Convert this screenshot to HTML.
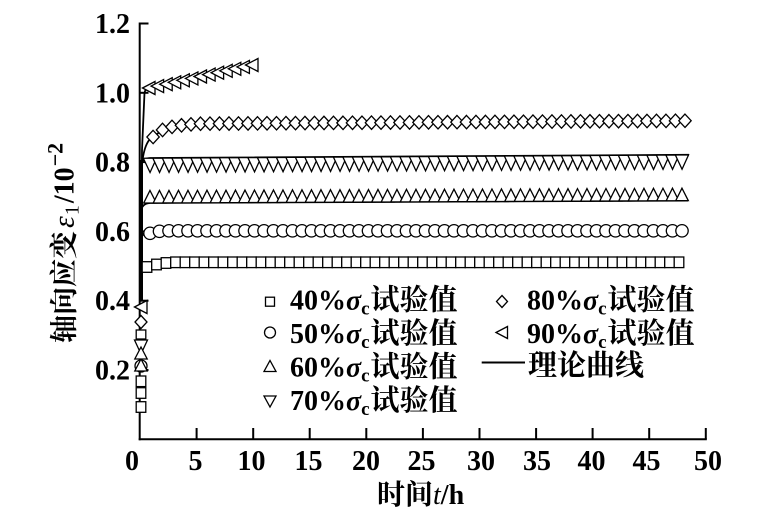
<!DOCTYPE html>
<html><head><meta charset="utf-8">
<style>html,body{margin:0;padding:0;background:#fff}svg{display:block}</style>
</head><body>
<svg width="770" height="530" viewBox="0 0 770 530" xmlns="http://www.w3.org/2000/svg">
<defs>
<marker id="mSq" markerUnits="userSpaceOnUse" markerWidth="1" markerHeight="1" refX="0" refY="0" style="overflow:visible"><rect x="-4.8" y="-5.3" width="9.6" height="10.6" fill="#fff" stroke="#000" stroke-width="1.3"/></marker>
<marker id="mCi" markerUnits="userSpaceOnUse" markerWidth="1" markerHeight="1" refX="0" refY="0" style="overflow:visible"><circle r="6.2" fill="#fff" stroke="#000" stroke-width="1.3"/></marker>
<marker id="mUp" markerUnits="userSpaceOnUse" markerWidth="1" markerHeight="1" refX="0" refY="0" style="overflow:visible"><polygon points="-6.3,5 6.3,5 0,-7.5" fill="#fff" stroke="#000" stroke-width="1.3"/></marker>
<marker id="mDn" markerUnits="userSpaceOnUse" markerWidth="1" markerHeight="1" refX="0" refY="0" style="overflow:visible"><polygon points="-6.6,-6 6.6,-6 0,8.3" fill="#fff" stroke="#000" stroke-width="1.3"/></marker>
<marker id="mDi" markerUnits="userSpaceOnUse" markerWidth="1" markerHeight="1" refX="0" refY="0" style="overflow:visible"><polygon points="0,-6.7 6.2,0 0,6.7 -6.2,0" fill="#fff" stroke="#000" stroke-width="1.3"/></marker>
<marker id="mLt" markerUnits="userSpaceOnUse" markerWidth="1" markerHeight="1" refX="0" refY="0" style="overflow:visible"><polygon points="-6.5,0 6,-6.5 6,6.5" fill="#fff" stroke="#000" stroke-width="1.3"/></marker>
</defs>

<!-- axes -->
<g stroke="#000" stroke-width="2" fill="none">
<line x1="139.7" y1="22.5" x2="139.7" y2="440.3"/>
<line x1="138.7" y1="439.3" x2="706.8" y2="439.3"/>
<line x1="139.7" y1="23.5" x2="148.5" y2="23.5"/>
<line x1="139.7" y1="92.8" x2="148.5" y2="92.8"/>
<line x1="139.7" y1="162.1" x2="148.5" y2="162.1"/>
<line x1="139.7" y1="231.4" x2="148.5" y2="231.4"/>
<line x1="139.7" y1="300.7" x2="148.5" y2="300.7"/>
<line x1="139.7" y1="370" x2="148.5" y2="370"/>
<line x1="196.6" y1="439.3" x2="196.6" y2="428"/>
<line x1="253.2" y1="439.3" x2="253.2" y2="428"/>
<line x1="309.7" y1="439.3" x2="309.7" y2="428"/>
<line x1="366.3" y1="439.3" x2="366.3" y2="428"/>
<line x1="422.9" y1="439.3" x2="422.9" y2="428"/>
<line x1="479.5" y1="439.3" x2="479.5" y2="428"/>
<line x1="536.1" y1="439.3" x2="536.1" y2="428"/>
<line x1="592.6" y1="439.3" x2="592.6" y2="428"/>
<line x1="649.2" y1="439.3" x2="649.2" y2="428"/>
<line x1="705.8" y1="439.3" x2="705.8" y2="428"/>
</g>

<!-- tick labels -->
<g font-family="'Liberation Serif', serif" font-weight="bold" font-size="28" fill="#000">
<g text-anchor="end">
<text x="130" y="33">1.2</text>
<text x="130" y="102.3">1.0</text>
<text x="130" y="171.6">0.8</text>
<text x="130" y="240.9">0.6</text>
<text x="130" y="310.2">0.4</text>
<text x="130" y="379.5">0.2</text>
</g>
<g text-anchor="middle">
<text x="132" y="470">0</text>
<text x="195.5" y="470">5</text>
<text x="251.5" y="470">10</text>
<text x="308.5" y="470">15</text>
<text x="366" y="470">20</text>
<text x="421.5" y="470">25</text>
<text x="481" y="470">30</text>
<text x="537" y="470">35</text>
<text x="591.5" y="470">40</text>
<text x="646.5" y="470">45</text>
<text x="708" y="470">50</text>
</g>
</g>

<!-- axis titles -->
<text x="377" y="504" font-size="28" font-weight="bold" font-family="'Liberation Serif', 'Noto Serif CJK SC', serif" fill="#000"><tspan font-family="'Noto Serif CJK SC', 'Noto Sans CJK SC', serif">时间</tspan><tspan font-style="italic" font-weight="normal">t</tspan>/h</text>

<text transform="translate(73.5,343) rotate(-90)" x="0" y="0" font-size="28" font-weight="bold" font-family="'Liberation Serif', 'Noto Serif CJK SC', serif" fill="#000"><tspan font-family="'Noto Serif CJK SC', 'Noto Sans CJK SC', serif">轴向应变</tspan><tspan font-style="italic" font-weight="normal" font-size="30" dx="3">ε</tspan><tspan font-size="20" font-weight="normal" dy="5" dx="1">1</tspan><tspan dy="-5" dx="2">/10</tspan><tspan font-size="22" dy="-11" dx="1">−2</tspan></text>

<!-- theory curves -->
<g stroke="#000" stroke-width="1.8" fill="none">
<rect x="139" y="160" width="4" height="141" fill="#000" stroke="none"/>
<path d="M141,301 L141,270 Q142,262.5 152,262.3 L680,262.3"/>
<path d="M141,301 L141,240 Q142,231 152,230.8 L683,230.8"/>
<path d="M141,301 L141,212 Q141.5,203.5 150,203 L688,200.6"/>
<path d="M141,301 L141,166 Q141.5,158.3 150,158 L689,154.8"/>
<path d="M141,301 L141,180 Q142,142 153,137"/>
<path d="M141,301 L142,150 L144.5,93 Q145.5,88 149,88"/>
</g>

<!-- 40% squares -->
<polyline transform="translate(147,262.3)" fill="none" stroke="none" marker-start="url(#mSq)" marker-mid="url(#mSq)" marker-end="url(#mSq)" points="0,4.7 9.5,2.2 19,0.7 28.5,0 38,0 47.5,0 57,0 66.5,0 76,0 85.5,0 95,0 104.5,0 114,0 123.5,0 133,0 142.5,0 152,0 161.5,0 171,0 180.5,0 190,0 199.5,0 209,0 218.5,0 228,0 237.5,0 247,0 256.5,0 266,0 275.5,0 285,0 294.5,0 304,0 313.5,0 323,0 332.5,0 342,0 351.5,0 361,0 370.5,0 380,0 389.5,0 399,0 408.5,0 418,0 427.5,0 437,0 446.5,0 456,0 465.5,0 475,0 484.5,0 494,0 503.5,0 513,0 522.5,0 532,0"/>

<!-- 50% circles -->
<polyline transform="translate(150,230.8)" fill="none" stroke="none" marker-start="url(#mCi)" marker-mid="url(#mCi)" marker-end="url(#mCi)" points="0,2.5 9.5,0.5 19,0 28.5,0 38,0 47.5,0 57,0 66.5,0 76,0 85.5,0 95,0 104.5,0 114,0 123.5,0 133,0 142.5,0 152,0 161.5,0 171,0 180.5,0 190,0 199.5,0 209,0 218.5,0 228,0 237.5,0 247,0 256.5,0 266,0 275.5,0 285,0 294.5,0 304,0 313.5,0 323,0 332.5,0 342,0 351.5,0 361,0 370.5,0 380,0 389.5,0 399,0 408.5,0 418,0 427.5,0 437,0 446.5,0 456,0 465.5,0 475,0 484.5,0 494,0 503.5,0 513,0 522.5,0 532,0"/>

<!-- 60% up triangles -->
<polyline transform="translate(150,198) rotate(-0.25)" fill="none" stroke="none" marker-start="url(#mUp)" marker-mid="url(#mUp)" marker-end="url(#mUp)" points="0,0 9.5,0 19,0 28.5,0 38,0 47.5,0 57,0 66.5,0 76,0 85.5,0 95,0 104.5,0 114,0 123.5,0 133,0 142.5,0 152,0 161.5,0 171,0 180.5,0 190,0 199.5,0 209,0 218.5,0 228,0 237.5,0 247,0 256.5,0 266,0 275.5,0 285,0 294.5,0 304,0 313.5,0 323,0 332.5,0 342,0 351.5,0 361,0 370.5,0 380,0 389.5,0 399,0 408.5,0 418,0 427.5,0 437,0 446.5,0 456,0 465.5,0 475,0 484.5,0 494,0 503.5,0 513,0 522.5,0 532,0"/>

<!-- 70% down triangles -->
<polyline transform="translate(150,164.2) rotate(-0.35)" fill="none" stroke="none" marker-start="url(#mDn)" marker-mid="url(#mDn)" marker-end="url(#mDn)" points="0,0 9.5,0 19,0 28.5,0 38,0 47.5,0 57,0 66.5,0 76,0 85.5,0 95,0 104.5,0 114,0 123.5,0 133,0 142.5,0 152,0 161.5,0 171,0 180.5,0 190,0 199.5,0 209,0 218.5,0 228,0 237.5,0 247,0 256.5,0 266,0 275.5,0 285,0 294.5,0 304,0 313.5,0 323,0 332.5,0 342,0 351.5,0 361,0 370.5,0 380,0 389.5,0 399,0 408.5,0 418,0 427.5,0 437,0 446.5,0 456,0 465.5,0 475,0 484.5,0 494,0 503.5,0 513,0 522.5,0 532,0"/>

<!-- 80% diamonds -->
<polyline transform="translate(153,124) rotate(-0.35)" fill="none" stroke="#000" stroke-width="1.8" marker-start="url(#mDi)" marker-mid="url(#mDi)" marker-end="url(#mDi)" points="0,13 9.5,6 19,3 28.5,1.5 38,0.6 47.5,0 57,0 66.5,0 76,0 85.5,0 95,0 104.5,0 114,0 123.5,0 133,0 142.5,0 152,0 161.5,0 171,0 180.5,0 190,0 199.5,0 209,0 218.5,0 228,0 237.5,0 247,0 256.5,0 266,0 275.5,0 285,0 294.5,0 304,0 313.5,0 323,0 332.5,0 342,0 351.5,0 361,0 370.5,0 380,0 389.5,0 399,0 408.5,0 418,0 427.5,0 437,0 446.5,0 456,0 465.5,0 475,0 484.5,0 494,0 503.5,0 513,0 522.5,0 532,0"/>

<!-- 90% left triangles -->
<polyline fill="none" stroke="#000" stroke-width="1.8" marker-start="url(#mLt)" marker-mid="url(#mLt)" marker-end="url(#mLt)" points="149,88 157.6,86.1 166.2,84.2 174.7,82.3 183.3,80.3 191.9,78.4 200.5,76.5 209.1,74.6 217.6,72.7 226.2,70.8 234.8,68.8 243.4,66.9 252,65"/>

<!-- early-time markers along axis -->
<g fill="#fff" stroke="#000" stroke-width="1.3">
<rect x="136.2" y="401.7" width="9.6" height="10.6"/>
<rect x="136.2" y="387.7" width="9.6" height="10.6"/>
<rect x="136.2" y="376" width="9.6" height="10.6"/>
<circle cx="141" cy="366" r="6"/>
<polygon points="134.8,371 147.2,371 141,359"/>
<polygon points="134.5,340 147.5,340 141,354"/>
<polygon points="134.8,359 147.2,359 141,347"/>
<rect x="136.2" y="330" width="9.6" height="9"/>
<polygon points="141,315.5 147,322 141,328.5 135,322"/>
<polygon points="134.5,307 147,300.5 147,313.5"/>
</g>

<!-- legend -->
<g fill="#fff" stroke="#000" stroke-width="1.3">
<rect x="265.5" y="297.2" width="9" height="9"/>
<circle cx="270" cy="332.5" r="5.5"/>
<polygon points="264,371.5 276,371.5 270,360.5"/>
<polygon points="264,396 276,396 270,407"/>
<polygon points="502,295.5 507.5,301.5 502,307.5 496.5,301.5"/>
<polygon points="496,332.5 507.5,326.5 507.5,338.5"/>
</g>
<line x1="481.7" y1="362.5" x2="525" y2="362.5" stroke="#000" stroke-width="2"/>

<g font-family="'Liberation Serif', 'Noto Serif CJK SC', serif" font-weight="bold" font-size="28" fill="#000">
<text x="290" y="309.5">40%<tspan font-style="italic">σ</tspan><tspan font-size="19" dy="5">c</tspan><tspan dy="-5" dx="1" font-family="'Noto Serif CJK SC', 'Noto Sans CJK SC', serif" font-size="29">试验值</tspan></text>
<text x="290" y="343">50%<tspan font-style="italic">σ</tspan><tspan font-size="19" dy="5">c</tspan><tspan dy="-5" dx="1" font-family="'Noto Serif CJK SC', 'Noto Sans CJK SC', serif" font-size="29">试验值</tspan></text>
<text x="290" y="376.5">60%<tspan font-style="italic">σ</tspan><tspan font-size="19" dy="5">c</tspan><tspan dy="-5" dx="1" font-family="'Noto Serif CJK SC', 'Noto Sans CJK SC', serif" font-size="29">试验值</tspan></text>
<text x="290" y="410">70%<tspan font-style="italic">σ</tspan><tspan font-size="19" dy="5">c</tspan><tspan dy="-5" dx="1" font-family="'Noto Serif CJK SC', 'Noto Sans CJK SC', serif" font-size="29">试验值</tspan></text>
<text x="527" y="309.5">80%<tspan font-style="italic">σ</tspan><tspan font-size="19" dy="5">c</tspan><tspan dy="-5" dx="1" font-family="'Noto Serif CJK SC', 'Noto Sans CJK SC', serif" font-size="29">试验值</tspan></text>
<text x="527" y="343">90%<tspan font-style="italic">σ</tspan><tspan font-size="19" dy="5">c</tspan><tspan dy="-5" dx="1" font-family="'Noto Serif CJK SC', 'Noto Sans CJK SC', serif" font-size="29">试验值</tspan></text>
<text x="528" y="375" font-family="'Noto Serif CJK SC', 'Noto Sans CJK SC', serif" font-size="29">理论曲线</text>
</g>
</svg>
</body></html>
